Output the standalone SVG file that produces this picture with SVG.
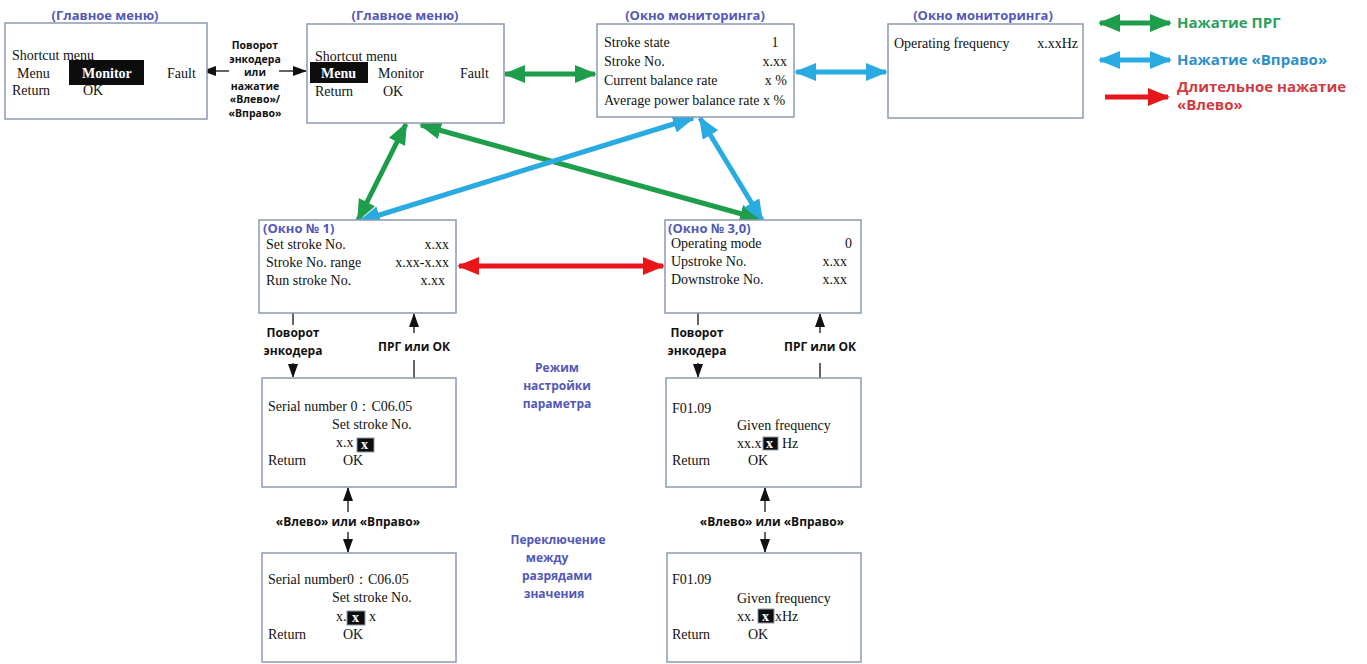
<svg xmlns="http://www.w3.org/2000/svg" width="1367" height="664" viewBox="0 0 1367 664">
<style>
.box{fill:#fff;stroke:#8A9AB0;stroke-width:1.5}
.t{font-family:"Liberation Serif","Times New Roman",serif;font-size:14px;fill:#111}
.tb{font-family:"Liberation Serif","Times New Roman",serif;font-size:14px;font-weight:bold;fill:#fff}
.ttl{font-family:"Open Sans","Noto Sans",sans-serif;font-size:13px;font-weight:bold;fill:#5257B8}
.lbl{font-family:"Open Sans","Noto Sans",sans-serif;font-size:12px;font-weight:bold;fill:#111}
.lbs{font-family:"Open Sans","Noto Sans",sans-serif;font-size:10.5px;font-weight:bold;fill:#111}
.mode{font-family:"Open Sans","Noto Sans",sans-serif;font-size:12px;font-weight:bold;fill:#5257B8}
.lg{font-family:"Open Sans","Noto Sans",sans-serif;font-size:15px;font-weight:bold}
.hl{fill:#0d0d0d}
.hlx{fill:#0d0d0d;stroke:#8A9AB0;stroke-width:1}
.thin{stroke:#111;stroke-width:1.3;fill:none}
.g{stroke:#1E9E4A;stroke-width:5;fill:none}
.b{stroke:#29ABE2;stroke-width:5;fill:none}
.r{stroke:#E8151B;stroke-width:5;fill:none}
</style>
<defs>
<marker id="mg" markerUnits="userSpaceOnUse" markerWidth="22" markerHeight="18" refX="20" refY="9" orient="auto-start-reverse"><path d="M0,0 L22,9 L0,18 z" fill="#1E9E4A"/></marker>
<marker id="mb" markerUnits="userSpaceOnUse" markerWidth="22" markerHeight="18" refX="20" refY="9" orient="auto-start-reverse"><path d="M0,0 L22,9 L0,18 z" fill="#29ABE2"/></marker>
<marker id="mr" markerUnits="userSpaceOnUse" markerWidth="22" markerHeight="18" refX="20" refY="9" orient="auto-start-reverse"><path d="M0,0 L22,9 L0,18 z" fill="#E8151B"/></marker>
<marker id="mk" markerUnits="userSpaceOnUse" markerWidth="14" markerHeight="10" refX="13" refY="5" orient="auto"><path d="M0,0 L14,5 L0,10 z" fill="#111"/></marker>
</defs>
<rect width="1367" height="664" fill="#fff"/>

<g id="connectors">
<line class="thin" x1="229" y1="71" x2="203" y2="71" marker-end="url(#mk)"/>
<line class="thin" x1="279" y1="71" x2="306" y2="71" marker-end="url(#mk)"/>
<line class="g" x1="505" y1="74" x2="595" y2="74" marker-start="url(#mg)" marker-end="url(#mg)"/>
<line class="b" x1="796" y1="72" x2="886" y2="72" marker-start="url(#mb)" marker-end="url(#mb)"/>
<line class="g" x1="406" y1="124" x2="358" y2="220" marker-start="url(#mg)" marker-end="url(#mg)"/>
<line class="g" x1="421" y1="125" x2="760" y2="219" marker-start="url(#mg)" marker-end="url(#mg)"/>
<line class="b" x1="693" y1="118" x2="360" y2="221" marker-start="url(#mb)" marker-end="url(#mb)"/>
<line class="b" x1="700" y1="118" x2="762" y2="220" marker-start="url(#mb)" marker-end="url(#mb)"/>
<line class="r" x1="459" y1="266" x2="663" y2="266" marker-start="url(#mr)" marker-end="url(#mr)"/>
<line class="thin" x1="293" y1="313" x2="293" y2="325"/>
<line class="thin" x1="293" y1="363" x2="293" y2="377" marker-end="url(#mk)"/>
<line class="thin" x1="414" y1="378" x2="414" y2="360"/>
<line class="thin" x1="414" y1="333" x2="414" y2="314" marker-end="url(#mk)"/>
<line class="thin" x1="348" y1="512" x2="348" y2="488" marker-end="url(#mk)"/>
<line class="thin" x1="348" y1="532" x2="348" y2="552" marker-end="url(#mk)"/>
<line class="thin" x1="698" y1="313" x2="698" y2="325"/>
<line class="thin" x1="698" y1="363" x2="698" y2="377" marker-end="url(#mk)"/>
<line class="thin" x1="820" y1="378" x2="820" y2="363"/>
<line class="thin" x1="820" y1="333" x2="820" y2="314" marker-end="url(#mk)"/>
<line class="thin" x1="765" y1="512" x2="765" y2="488" marker-end="url(#mk)"/>
<line class="thin" x1="765" y1="532" x2="765" y2="552" marker-end="url(#mk)"/>
</g>

<g id="labels">
<text class="lbs" text-anchor="middle"><tspan x="255" y="49">Поворот</tspan><tspan x="255" y="62.5">энкодера</tspan><tspan x="255" y="76">или</tspan><tspan x="255" y="89.5">нажатие</tspan><tspan x="255" y="103">«Влево»/</tspan><tspan x="255" y="116.5">«Вправо»</tspan></text>
<text class="lbl" text-anchor="middle"><tspan x="293" y="337">Поворот</tspan><tspan x="293" y="355">энкодера</tspan></text>
<text class="lbl" text-anchor="middle" x="414" y="351">ПРГ или ОК</text>
<text class="lbl" text-anchor="middle" x="348" y="526">«Влево» или «Вправо»</text>
<text class="lbl" text-anchor="middle"><tspan x="697" y="337">Поворот</tspan><tspan x="697" y="355">энкодера</tspan></text>
<text class="lbl" text-anchor="middle" x="820" y="351">ПРГ или ОК</text>
<text class="lbl" text-anchor="middle" x="772" y="526">«Влево» или «Вправо»</text>
<text class="mode" text-anchor="middle"><tspan x="557" y="372">Режим</tspan><tspan x="557" y="390">настройки</tspan><tspan x="557" y="408">параметра</tspan></text>
<text class="mode" text-anchor="middle"><tspan x="558" y="544">Переключение</tspan><tspan x="547" y="562">между</tspan><tspan x="557" y="580">разрядами</tspan><tspan x="554" y="598">значения</tspan></text>
</g>

<g id="legend">
<line class="g" x1="1100" y1="23" x2="1170" y2="23" marker-start="url(#mg)" marker-end="url(#mg)"/>
<text class="lg" x="1177" y="28" fill="#2BA05B">Нажатие ПРГ</text>
<line class="b" x1="1100" y1="60" x2="1170" y2="60" marker-start="url(#mb)" marker-end="url(#mb)"/>
<text class="lg" x="1177" y="65" fill="#2C8FC8">Нажатие «Вправо»</text>
<line class="r" x1="1105" y1="97" x2="1168" y2="97" marker-end="url(#mr)"/>
<text class="lg" fill="#D23A3F"><tspan x="1177" y="92">Длительное нажатие</tspan><tspan x="1177" y="110">«Влево»</tspan></text>
</g>

<g id="nodeA">
<text class="ttl" x="105" y="20" text-anchor="middle">(Главное меню)</text>
<rect class="box" x="5" y="23" width="202" height="96"/>
<text class="t" x="12" y="60">Shortcut menu</text>
<text class="t" x="17" y="78">Menu</text>
<rect class="hl" x="69" y="60" width="75" height="25"/>
<text class="tb" x="82" y="78">Monitor</text>
<text class="t" x="167" y="78">Fault</text>
<text class="t" x="12" y="95">Return</text>
<text class="t" x="83" y="95">OK</text>
</g>

<g id="nodeB">
<text class="ttl" x="405" y="20" text-anchor="middle">(Главное меню)</text>
<rect class="box" x="307" y="24" width="197" height="99"/>
<text class="t" x="315" y="61">Shortcut menu</text>
<rect class="hl" x="310" y="62" width="58" height="21"/>
<text class="tb" x="321" y="78">Menu</text>
<text class="t" x="378" y="78">Monitor</text>
<text class="t" x="460" y="78">Fault</text>
<text class="t" x="315" y="96">Return</text>
<text class="t" x="383" y="96">OK</text>
</g>

<g id="nodeC">
<text class="ttl" x="695" y="20" text-anchor="middle">(Окно мониторинга)</text>
<rect class="box" x="597" y="24" width="197" height="93"/>
<text class="t" x="604" y="47">Stroke state</text>
<text class="t" x="775" y="47" text-anchor="middle">1</text>
<text class="t" x="604" y="66">Stroke No.</text>
<text class="t" x="787" y="66" text-anchor="end">x.xx</text>
<text class="t" x="604" y="85">Current balance rate</text>
<text class="t" x="787" y="85" text-anchor="end">x %</text>
<text class="t" x="604" y="105">Average power balance rate  x %</text>
</g>

<g id="nodeD">
<text class="ttl" x="983" y="20" text-anchor="middle">(Окно мониторинга)</text>
<rect class="box" x="888" y="24" width="195" height="94"/>
<text class="t" x="894" y="48">Operating frequency</text>
<text class="t" x="1078" y="48" text-anchor="end">x.xxHz</text>
</g>

<g id="nodeE">
<rect class="box" x="259" y="220" width="197" height="93"/>
<text class="ttl" x="263" y="233">(Окно № 1)</text>
<text class="t" x="266" y="249">Set stroke No.</text>
<text class="t" x="449" y="249" text-anchor="end">x.xx</text>
<text class="t" x="266" y="267">Stroke No. range</text>
<text class="t" x="449" y="267" text-anchor="end">x.xx-x.xx</text>
<text class="t" x="266" y="285">Run stroke No.</text>
<text class="t" x="445" y="285" text-anchor="end">x.xx</text>
</g>

<g id="nodeF">
<rect class="box" x="665" y="220" width="196" height="93"/>
<text class="ttl" x="668" y="233">(Окно № 3,0)</text>
<text class="t" x="671" y="248">Operating mode</text>
<text class="t" x="852" y="248" text-anchor="end">0</text>
<text class="t" x="671" y="266">Upstroke No.</text>
<text class="t" x="847" y="266" text-anchor="end">x.xx</text>
<text class="t" x="671" y="284">Downstroke No.</text>
<text class="t" x="847" y="284" text-anchor="end">x.xx</text>
</g>

<g id="nodeG">
<rect class="box" x="262" y="378" width="194" height="109"/>
<text class="t" x="268" y="411">Serial number 0：C06.05</text>
<text class="t" x="332" y="429">Set stroke No.</text>
<text class="t" x="336" y="447">x.x</text>
<rect class="hlx" x="357" y="438" width="17" height="14"/>
<text class="tb" x="361" y="449" font-size="13">x</text>
<text class="t" x="268" y="465">Return</text>
<text class="t" x="343" y="465">OK</text>
</g>

<g id="nodeH">
<rect class="box" x="262" y="553" width="194" height="109"/>
<text class="t" x="268" y="584">Serial number0：C06.05</text>
<text class="t" x="332" y="602">Set stroke No.</text>
<text class="t" x="336" y="621">x.</text>
<rect class="hlx" x="347" y="611" width="18" height="14"/>
<text class="tb" x="352" y="622" font-size="13">x</text>
<text class="t" x="369" y="621">x</text>
<text class="t" x="268" y="639">Return</text>
<text class="t" x="343" y="639">OK</text>
</g>

<g id="nodeI">
<rect class="box" x="666" y="378" width="195" height="109"/>
<text class="t" x="672" y="413">F01.09</text>
<text class="t" x="737" y="430">Given frequency</text>
<text class="t" x="737" y="448">xx.x</text>
<rect class="hlx" x="763" y="437" width="15" height="13"/>
<text class="tb" x="766" y="448" font-size="13">x</text>
<text class="t" x="782" y="448">Hz</text>
<text class="t" x="672" y="465">Return</text>
<text class="t" x="748" y="465">OK</text>
</g>

<g id="nodeJ">
<rect class="box" x="667" y="553" width="194" height="109"/>
<text class="t" x="672" y="584">F01.09</text>
<text class="t" x="737" y="603">Given frequency</text>
<text class="t" x="737" y="621">xx.</text>
<rect class="hlx" x="758" y="609" width="16" height="14"/>
<text class="tb" x="762" y="621" font-size="13">x</text>
<text class="t" x="775" y="621">xHz</text>
<text class="t" x="672" y="639">Return</text>
<text class="t" x="748" y="639">OK</text>
</g>
</svg>
